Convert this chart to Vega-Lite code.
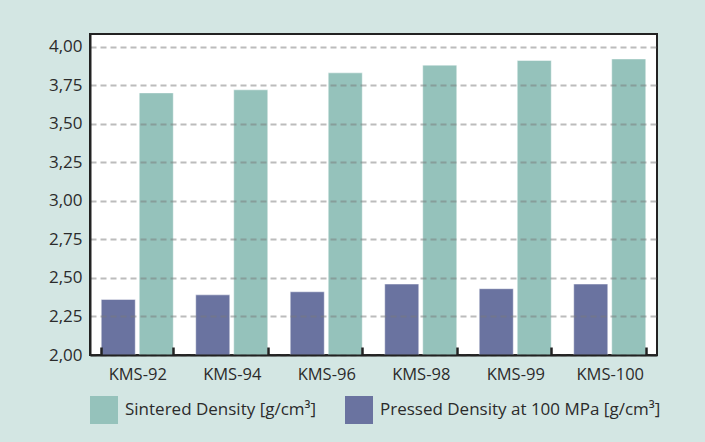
{
  "$schema": "https://vega.github.io/schema/vega-lite/v6.json",
  "width": 567,
  "height": 321,
  "autosize": {"type": "none"},
  "padding": {"left": 90, "top": 34, "right": 48, "bottom": 87},
  "background": "#d3e6e3",
  "data": {
    "values": [
      {"grade": "KMS-92", "series": "Pressed Density at 100 MPa [g/cm³]", "density": 2.36},
      {"grade": "KMS-92", "series": "Sintered Density [g/cm³]", "density": 3.70},
      {"grade": "KMS-94", "series": "Pressed Density at 100 MPa [g/cm³]", "density": 2.39},
      {"grade": "KMS-94", "series": "Sintered Density [g/cm³]", "density": 3.72},
      {"grade": "KMS-96", "series": "Pressed Density at 100 MPa [g/cm³]", "density": 2.41},
      {"grade": "KMS-96", "series": "Sintered Density [g/cm³]", "density": 3.83},
      {"grade": "KMS-98", "series": "Pressed Density at 100 MPa [g/cm³]", "density": 2.46},
      {"grade": "KMS-98", "series": "Sintered Density [g/cm³]", "density": 3.88},
      {"grade": "KMS-99", "series": "Pressed Density at 100 MPa [g/cm³]", "density": 2.43},
      {"grade": "KMS-99", "series": "Sintered Density [g/cm³]", "density": 3.91},
      {"grade": "KMS-100", "series": "Pressed Density at 100 MPa [g/cm³]", "density": 2.46},
      {"grade": "KMS-100", "series": "Sintered Density [g/cm³]", "density": 3.92}
    ]
  },
  "mark": {"type": "bar", "clip": true, "stroke": "#ffffff", "strokeOpacity": 0.45, "strokeWidth": 1},
  "encoding": {
    "x": {
      "field": "grade",
      "type": "nominal",
      "sort": ["KMS-92", "KMS-94", "KMS-96", "KMS-98", "KMS-99", "KMS-100"],
      "scale": {"paddingInner": 0.238, "paddingOuter": 0.119},
      "axis": {
        "title": null,
        "labelAngle": 0,
        "labelFont": "Open Sans",
        "labelFontSize": 16.5,
        "labelColor": "#2b2b2b",
        "labelPadding": 19,
        "ticks": true,
        "tickBand": "extent",
        "tickSize": -8,
        "tickWidth": 2.5,
        "tickColor": "#222222",
        "tickOpacity": 1,
        "domainColor": "#222222",
        "domainWidth": 2,
        "grid": false,
        "zindex": 1
      }
    },
    "xOffset": {
      "field": "series",
      "type": "nominal",
      "sort": ["Pressed Density at 100 MPa [g/cm³]", "Sintered Density [g/cm³]"],
      "scale": {"paddingInner": 0.105, "paddingOuter": 0}
    },
    "y": {
      "field": "density",
      "type": "quantitative",
      "scale": {"domain": [2, 4.082], "zero": false, "nice": false},
      "axis": {
        "title": null,
        "values": [2, 2.25, 2.5, 2.75, 3, 3.25, 3.5, 3.75, 4],
        "format": ".2f",
        "labelExpr": "replace(datum.label, '.', ',')",
        "labelFont": "Open Sans",
        "labelFontSize": 17,
        "labelColor": "#2b2b2b",
        "labelPadding": 8,
        "ticks": false,
        "domainColor": "#222222",
        "domainWidth": 2,
        "grid": true,
        "gridColor": "#7a7a7a",
        "gridOpacity": 0.5,
        "gridDash": [6, 4],
        "gridWidth": 2,
        "zindex": 1
      }
    },
    "color": {
      "field": "series",
      "type": "nominal",
      "scale": {
        "domain": ["Sintered Density [g/cm³]", "Pressed Density at 100 MPa [g/cm³]"],
        "range": ["#95c2bb", "#6a73a0"]
      },
      "legend": {
        "title": null,
        "orient": "none",
        "direction": "horizontal",
        "legendX": 0,
        "legendY": 362,
        "symbolType": "square",
        "symbolSize": 784,
        "symbolStrokeWidth": 0,
        "labelFont": "Open Sans",
        "labelFontSize": 17,
        "labelColor": "#2b2b2b",
        "labelOffset": 7,
        "columnPadding": 28,
        "labelLimit": 400
      }
    }
  },
  "config": {
    "view": {"stroke": "#222222", "strokeWidth": 2, "fill": "#ffffff"}
  }
}
